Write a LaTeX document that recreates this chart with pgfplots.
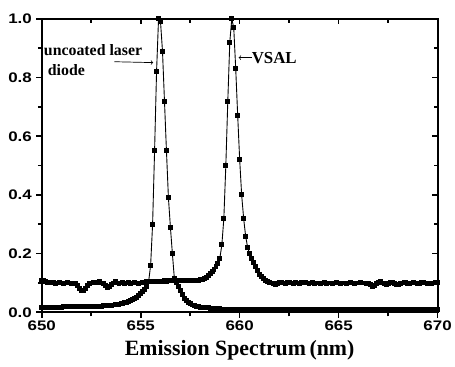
\documentclass[border=0pt]{standalone}
\usepackage{fontspec}
\setmainfont{Liberation Serif}
\newfontfamily\tickfont[FakeStretch=1.22]{Liberation Sans}
\usepackage{pgfplots}
\pgfplotsset{compat=1.18}
\usepackage{pgfplotstable}
\pgfplotstableread{
x y
650.0 0.018
650.1 0.018
650.2 0.018
650.3 0.018
650.4 0.018
650.5 0.018
650.6 0.018
650.7 0.018
650.8 0.018
650.9 0.018
651.0 0.018
651.1 0.019
651.2 0.019
651.3 0.019
651.4 0.019
651.5 0.019
651.6 0.019
651.7 0.019
651.8 0.019
651.9 0.019
652.0 0.019
652.1 0.020
652.2 0.020
652.3 0.020
652.4 0.020
652.5 0.020
652.6 0.020
652.7 0.020
652.8 0.020
652.9 0.020
653.0 0.020
653.1 0.022
653.2 0.022
653.3 0.022
653.4 0.022
653.5 0.022
653.6 0.025
653.7 0.026
653.8 0.027
653.9 0.028
654.0 0.030
654.1 0.031
654.2 0.033
654.3 0.035
654.4 0.037
654.5 0.040
654.6 0.043
654.7 0.047
654.8 0.052
654.9 0.058
655.0 0.064
655.1 0.070
655.2 0.078
655.3 0.088
655.4 0.105
655.5 0.160
655.6 0.300
655.7 0.550
655.8 0.820
655.9 1.000
656.0 0.990
656.1 0.890
656.2 0.720
656.3 0.550
656.4 0.390
656.5 0.290
656.6 0.200
656.7 0.115
656.8 0.100
656.9 0.088
657.0 0.075
657.1 0.060
657.2 0.048
657.3 0.040
657.4 0.034
657.5 0.029
657.6 0.025
657.7 0.022
657.8 0.020
657.9 0.019
658.0 0.018
658.1 0.017
658.2 0.016
658.3 0.015
658.4 0.015
658.5 0.014
658.6 0.014
658.7 0.013
658.8 0.013
658.9 0.012
659.0 0.012
659.1 0.011
659.2 0.011
659.3 0.011
659.4 0.011
659.5 0.011
659.6 0.011
659.7 0.011
659.8 0.011
659.9 0.011
660.0 0.011
660.1 0.010
660.2 0.010
660.3 0.010
660.4 0.010
660.5 0.010
660.6 0.010
660.7 0.010
660.8 0.010
660.9 0.010
661.0 0.010
661.1 0.010
661.2 0.010
661.3 0.010
661.4 0.010
661.5 0.010
661.6 0.010
661.7 0.010
661.8 0.010
661.9 0.010
662.0 0.010
662.1 0.010
662.2 0.010
662.3 0.010
662.4 0.010
662.5 0.010
662.6 0.010
662.7 0.010
662.8 0.010
662.9 0.010
663.0 0.010
663.1 0.010
663.2 0.010
663.3 0.010
663.4 0.010
663.5 0.010
663.6 0.010
663.7 0.010
663.8 0.010
663.9 0.010
664.0 0.010
664.1 0.010
664.2 0.010
664.3 0.010
664.4 0.010
664.5 0.010
664.6 0.010
664.7 0.010
664.8 0.010
664.9 0.010
665.0 0.010
665.1 0.010
665.2 0.010
665.3 0.010
665.4 0.010
665.5 0.010
665.6 0.010
665.7 0.010
665.8 0.010
665.9 0.010
666.0 0.010
666.1 0.010
666.2 0.010
666.3 0.010
666.4 0.010
666.5 0.010
666.6 0.010
666.7 0.010
666.8 0.010
666.9 0.010
667.0 0.010
667.1 0.010
667.2 0.010
667.3 0.010
667.4 0.010
667.5 0.010
667.6 0.010
667.7 0.010
667.8 0.010
667.9 0.010
668.0 0.010
668.1 0.010
668.2 0.010
668.3 0.010
668.4 0.010
668.5 0.010
668.6 0.010
668.7 0.010
668.8 0.010
668.9 0.010
669.0 0.010
669.1 0.010
669.2 0.010
669.3 0.010
669.4 0.010
669.5 0.010
669.6 0.010
669.7 0.010
669.8 0.010
669.9 0.010
670.0 0.010
}\laserdiode
\pgfplotstableread{
x y
650.0 0.110
650.1 0.108
650.2 0.105
650.3 0.103
650.4 0.102
650.5 0.100
650.6 0.101
650.7 0.098
650.8 0.100
650.9 0.101
651.0 0.100
651.1 0.099
651.2 0.100
651.3 0.102
651.4 0.100
651.5 0.099
651.6 0.100
651.7 0.097
651.8 0.090
651.9 0.082
652.0 0.076
652.1 0.075
652.2 0.080
652.3 0.090
652.4 0.098
652.5 0.100
652.6 0.102
652.7 0.100
652.8 0.103
652.9 0.105
653.0 0.100
653.1 0.097
653.2 0.090
653.3 0.085
653.4 0.088
653.5 0.095
653.6 0.100
653.7 0.104
653.8 0.100
653.9 0.098
654.0 0.100
654.1 0.102
654.2 0.099
654.3 0.100
654.4 0.101
654.5 0.099
654.6 0.100
654.7 0.102
654.8 0.100
654.9 0.098
655.0 0.100
655.1 0.101
655.2 0.103
655.3 0.104
655.4 0.105
655.5 0.104
655.6 0.105
655.7 0.106
655.8 0.105
655.9 0.106
656.0 0.105
656.1 0.106
656.2 0.107
656.3 0.106
656.4 0.107
656.5 0.108
656.6 0.107
656.7 0.108
656.8 0.108
656.9 0.107
657.0 0.108
657.1 0.107
657.2 0.108
657.3 0.107
657.4 0.108
657.5 0.108
657.6 0.107
657.7 0.108
657.8 0.109
657.9 0.110
658.0 0.111
658.1 0.113
658.2 0.116
658.3 0.120
658.4 0.125
658.5 0.131
658.6 0.138
658.7 0.146
658.8 0.155
658.9 0.166
659.0 0.185
659.1 0.230
659.2 0.320
659.3 0.500
659.4 0.720
659.5 0.920
659.6 1.000
659.7 0.970
659.8 0.830
659.9 0.670
660.0 0.520
660.1 0.400
660.2 0.320
660.3 0.260
660.4 0.222
660.5 0.200
660.6 0.185
660.7 0.170
660.8 0.155
660.9 0.142
661.0 0.130
661.1 0.121
661.2 0.114
661.3 0.109
661.4 0.105
661.5 0.102
661.6 0.100
661.7 0.097
661.8 0.096
661.9 0.098
662.0 0.101
662.1 0.103
662.2 0.100
662.3 0.098
662.4 0.101
662.5 0.103
662.6 0.100
662.7 0.099
662.8 0.101
662.9 0.100
663.0 0.099
663.1 0.101
663.2 0.100
663.3 0.102
663.4 0.100
663.5 0.099
663.6 0.100
663.7 0.101
663.8 0.099
663.9 0.100
664.0 0.100
664.1 0.099
664.2 0.100
664.3 0.101
664.4 0.099
664.5 0.100
664.6 0.100
664.7 0.099
664.8 0.100
664.9 0.101
665.0 0.100
665.1 0.099
665.2 0.100
665.3 0.100
665.4 0.099
665.5 0.100
665.6 0.101
665.7 0.100
665.8 0.099
665.9 0.100
666.0 0.100
666.1 0.101
666.2 0.100
666.3 0.100
666.4 0.099
666.5 0.098
666.6 0.094
666.7 0.088
666.8 0.090
666.9 0.097
667.0 0.102
667.1 0.104
667.2 0.100
667.3 0.097
667.4 0.095
667.5 0.098
667.6 0.101
667.7 0.103
667.8 0.098
667.9 0.095
668.0 0.094
668.1 0.097
668.2 0.100
668.3 0.102
668.4 0.101
668.5 0.099
668.6 0.098
668.7 0.100
668.8 0.102
668.9 0.100
669.0 0.098
669.1 0.099
669.2 0.101
669.3 0.102
669.4 0.100
669.5 0.098
669.6 0.097
669.7 0.099
669.8 0.100
669.9 0.101
670.0 0.102
}\vsal
\begin{document}
\begin{tikzpicture}
\pgfplotsset{
  common/.style={
    scale only axis, width=398bp, height=295bp,
    xmin=650, xmax=670, ymin=0, ymax=1,
    xtick={650,655,...,670}, ytick={0,0.2,...,1.0},
    minor x tick num=1, minor y tick num=1,
    axis line style={line width=2pt},
    major tick length=5.5bp, minor tick length=4bp,
    every tick/.style={black, line width=1.6pt},
  }
}
\begin{axis}[common, name=ax,
    tick align=outside,
    xtick pos=left, ytick pos=left,
    /pgf/number format/assume math mode=true,
    ticklabel style={font=\tickfont\bfseries\fontsize{14}{14}\selectfont},
    yticklabel style={/pgf/number format/fixed, /pgf/number format/fixed zerofill, /pgf/number format/precision=1, xshift=-1bp},
    xticklabel style={/pgf/number format/1000 sep={}},
    xlabel={\bfseries\fontsize{22}{22}\selectfont Emission Spectrum\,(nm)},
    xlabel style={yshift=-3bp},
    clip=false,
]
\addplot[black, line width=0.9pt, mark=square*, mark size=2pt, mark options={solid}] table[x=x,y=y] {\laserdiode};
\addplot[black, line width=0.9pt, mark=square*, mark size=2pt, mark options={solid}] table[x=x,y=y] {\vsal};
\node[anchor=west, inner sep=0pt, font=\bfseries\fontsize{16}{16}\selectfont] at (axis cs:650.1,0.895) {uncoated laser};
\node[anchor=west, inner sep=0pt, font=\bfseries\fontsize{16}{16}\selectfont] at (axis cs:650.3,0.827) {diode};
\draw[->, line width=0.7pt] (axis cs:653.67,0.854) -- (axis cs:655.63,0.851);
\draw[<-, line width=0.7pt] (axis cs:659.95,0.868) -- (axis cs:660.6,0.868);
\node[anchor=west, inner sep=0pt, font=\bfseries\fontsize{17}{17}\selectfont] at (axis cs:660.6,0.868) {VSAL};
\end{axis}
\begin{axis}[common,
    tick align=inside,
    xtick pos=right, ytick pos=right,
    xticklabels={}, yticklabels={},
]
\end{axis}
\path ([shift={(-42bp,-55bp)}]ax.south west) rectangle ([shift={(15bp,19bp)}]ax.north east);
\end{tikzpicture}
\end{document}
